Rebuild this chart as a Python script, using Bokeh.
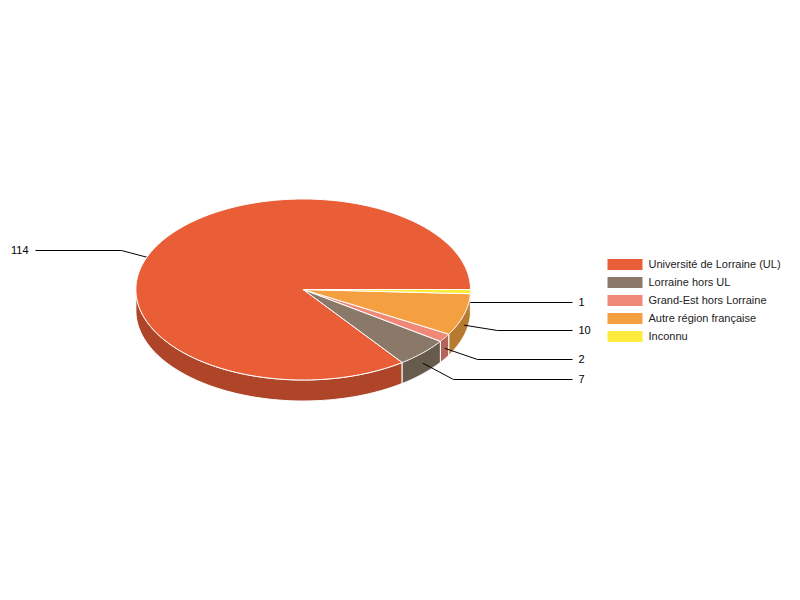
import numpy as np
from bokeh.plotting import figure
from bokeh.core.properties import value
from bokeh.embed import file_html
from bokeh.resources import INLINE

categories = ["Université de Lorraine (UL)", "Lorraine hors UL", "Grand-Est hors Lorraine",
              "Autre région française", "Inconnu"]
counts = [114, 7, 2, 10, 1]
top_colors = ["#E95D37", "#8A7968", "#F08878", "#F5A040", "#FFEB3B"]
side_colors = ["#AE4529", "#675B4E", "#B4655A", "#B77B30", "#BFB02C"]

# layout, in page pixels
CX, CY, RX, RY, DEPTH = 302.7, 289.0, 167.3, 90.5, 21.0
label_elbow_x = [121, 453, 477, 497, 470]
label_y = [250, 379, 359, 330, 302]
legend_y = [264, 282, 300, 318, 336]

p = figure(width=784, height=584, x_range=(0, 784), y_range=(584, 0),
           output_backend="svg", toolbar_location=None, min_border=0,
           outline_line_color=None, background_fill_color="white", border_fill_color="white")
p.axis.visible = False
p.grid.visible = False


def rim(a):
    return CX + RX * np.cos(a), CY + RY * np.sin(a)


# screen-clockwise angle; data runs anticlockwise from east
fractions = np.array(counts, dtype=float) / sum(counts)
ends = 2 * np.pi - np.concatenate([[0.0], np.cumsum(fractions)[:-1]]) * 2 * np.pi
starts = ends - fractions * 2 * np.pi

# side walls, from the back corners to the front
order = sorted(range(len(counts)), key=lambda k: abs(((starts[k] + ends[k]) / 2) % (2 * np.pi) - np.pi / 2),
               reverse=True)
for i in order:
    a0, a1 = max(starts[i], 0.0), min(ends[i], np.pi)
    if a1 <= a0:
        continue
    t = np.linspace(a0, a1, 120)
    x, y = rim(t)
    p.patch(np.r_[x, x[::-1]], np.r_[y, y[::-1] + DEPTH],
            fill_color=side_colors[i], line_color="white", line_width=1)

# leader lines lie over the walls and under the top faces
for i, n in enumerate(counts):
    mid = (starts[i] + ends[i]) / 2
    ax, ay = rim(mid)
    ay += DEPTH / 2
    left = np.cos(mid) < 0
    far_x = 35 if left else 572
    p.line([ax, label_elbow_x[i], far_x], [ay, label_y[i], label_y[i]],
           line_color="black", line_width=1)
    p.text([28 if left else 578], [label_y[i] - 1], text=[str(n)],
           text_font=value("Liberation Sans"), text_font_size="11px", text_color="black",
           text_align="right" if left else "left", text_baseline="middle")

# top faces
for i in range(len(counts)):
    t = np.linspace(starts[i], ends[i], 240)
    x, y = rim(t)
    p.patch(np.r_[CX, x], np.r_[CY, y],
            fill_color=top_colors[i], line_color="white", line_width=1)

# legend
p.rect([624.5] * 5, legend_y, width=35, height=11, fill_color=top_colors, line_color=None)
p.text([648] * 5, [y - 1 for y in legend_y], text=categories, text_font=value("Liberation Sans"),
       text_font_size="11px", text_color="#222222", text_align="left", text_baseline="middle")

open("out.html", "w").write(file_html(p, INLINE))
